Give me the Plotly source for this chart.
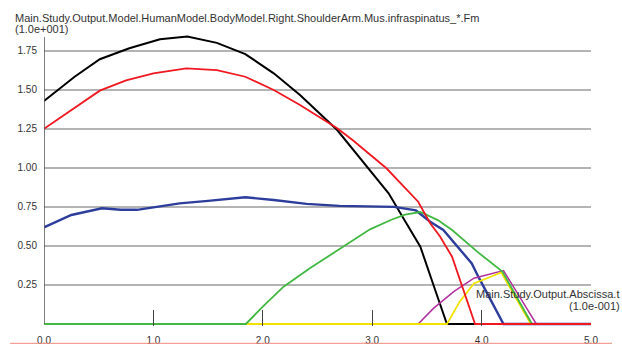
import plotly.graph_objects as go

# Muscle force curves: Mus.infraspinatus_* Fm (scaled 1.0e+001) vs time t (scaled 1.0e-001)
black_t = [0.0, 0.28, 0.51, 0.78, 1.06, 1.31, 1.58, 1.84, 2.10, 2.34, 2.68, 2.95, 3.15, 3.30, 3.44, 3.56, 3.683, 5.0]
black_f = [1.428, 1.583, 1.695, 1.765, 1.823, 1.840, 1.800, 1.728, 1.605, 1.466, 1.242, 1.007, 0.837, 0.660, 0.495, 0.250, 0.0, 0.0]

red_t = [0.0, 0.28, 0.51, 0.75, 1.0, 1.30, 1.58, 1.84, 2.10, 2.34, 2.68, 2.82, 3.13, 3.42, 3.53, 3.62, 3.73, 3.94, 5.0]
red_f = [1.25, 1.381, 1.494, 1.560, 1.605, 1.637, 1.626, 1.583, 1.498, 1.402, 1.253, 1.178, 0.997, 0.783, 0.645, 0.560, 0.431, 0.0, 0.0]

blue_t = [0.0, 0.25, 0.53, 0.70, 0.85, 1.0, 1.24, 1.50, 1.84, 2.10, 2.40, 2.70, 3.0, 3.20, 3.40, 3.53, 3.65, 3.91, 3.97, 4.20, 5.0]
blue_f = [0.619, 0.698, 0.741, 0.731, 0.731, 0.747, 0.772, 0.788, 0.811, 0.794, 0.769, 0.756, 0.752, 0.750, 0.727, 0.655, 0.602, 0.388, 0.303, 0.0, 0.0]

green_t = [0.0, 1.845, 2.0, 2.19, 2.43, 2.71, 2.98, 3.17, 3.30, 3.44, 3.60, 3.73, 3.96, 4.19, 4.46, 5.0]
green_f = [0.0, 0.0, 0.111, 0.239, 0.357, 0.485, 0.606, 0.666, 0.700, 0.717, 0.665, 0.602, 0.463, 0.335, 0.0, 0.0]

magenta_t = [0.0, 3.42, 3.56, 3.745, 3.93, 4.05, 4.20, 4.50, 5.0]
magenta_f = [0.0, 0.0, 0.100, 0.207, 0.293, 0.314, 0.342, 0.0, 0.0]

yellow_t = [0.0, 3.683, 3.80, 3.93, 4.05, 4.18, 4.45, 5.0]
yellow_f = [0.0, 0.0, 0.143, 0.260, 0.293, 0.330, 0.0, 0.0]

x_ticks = [0.0, 1.0, 2.0, 3.0, 4.0, 5.0]
x_labels = ["0.0", "1.0", "2.0", "3.0", "4.0", "5.0"]
y_ticks = [0.25, 0.50, 0.75, 1.00, 1.25, 1.50, 1.75]
y_labels = ["0.25", "0.50", "0.75", "1.00", "1.25", "1.50", "1.75"]

title_l1 = "Main.Study.Output.Model.HumanModel.BodyModel.Right.ShoulderArm.Mus.infraspinatus_*.Fm"
title_l2 = "(1.0e+001)"
xlab_l1 = "Main.Study.Output.Abscissa.t"
xlab_l2 = "(1.0e-001)"

W, H = 622, 345
ML, MR, MT, MB = 44, 31, 34, 19
PW, PH = W - ML - MR, H - MT - MB
Y_SCALE = 156.2          # pixels per unit force
Y_PAD = 2 / Y_SCALE      # keeps the zero-level lines fully inside the plot area


def px(x):
    return (x - ML) / PW


def py(y):
    return (H - MB - y) / PH


FONT = "Liberation Sans, Arial, sans-serif"

fig = go.Figure()

series = [
    (black_t, black_f, "#000000", 2.0),
    (blue_t, blue_f, "#2d3d9c", 2.4),
    (magenta_t, magenta_f, "#b2309e", 1.5),
    (yellow_t, yellow_f, "#f2e200", 1.8),
    (green_t, green_f, "#42b842", 1.8),
    (red_t, red_f, "#f01820", 1.8),
]
for t, f, c, w in series:
    fig.add_trace(go.Scatter(x=t, y=f, mode="lines",
                             line=dict(color=c, width=w), hoverinfo="skip"))

fig.update_layout(
    width=W, height=H,
    margin=dict(l=ML, r=MR, t=MT, b=MB, pad=0),
    paper_bgcolor="white", plot_bgcolor="white",
    showlegend=False,
    font=dict(family=FONT, color="#333333", size=10),
    xaxis=dict(range=[0, 5], tickvals=x_ticks, ticktext=x_labels,
               ticks="inside", ticklen=16, tickwidth=1.2, tickcolor="#444444",
               showgrid=False, zeroline=False, showline=False, automargin=False,
               ticklabelstandoff=7, tickfont=dict(size=10, color="#333333")),
    yaxis=dict(range=[-Y_PAD, PH / Y_SCALE - Y_PAD], tickvals=y_ticks, ticktext=y_labels,
               ticks="", showgrid=True, gridcolor="#b4b4b4", gridwidth=1.5,
               zeroline=False, showline=False, automargin=False, ticklabelstandoff=6,
               tickfont=dict(size=10, color="#333333")),
)

# vertical axis line
fig.add_shape(type="line", xref="x", yref="y", x0=0, x1=0, y0=0, y1=1.837,
              line=dict(color="#555555", width=1.5), layer="above")

# thin border line along the bottom of the frame
fig.add_shape(type="line", xref="paper", yref="paper",
              x0=px(10), x1=px(612), y0=py(343.3), y1=py(343.3),
              line=dict(color="#f08a7c", width=1))

fig.add_annotation(text=title_l1, xref="paper", yref="paper", x=px(13), y=py(17.5),
                   xanchor="left", yanchor="middle", showarrow=False,
                   font=dict(size=11, color="#333333", family=FONT))
fig.add_annotation(text=title_l2, xref="paper", yref="paper", x=px(13), y=py(28.5),
                   xanchor="left", yanchor="middle", showarrow=False,
                   font=dict(size=11, color="#333333", family=FONT))
fig.add_annotation(text=xlab_l1, xref="paper", yref="paper", x=px(621), y=py(294),
                   xanchor="right", yanchor="middle", showarrow=False,
                   font=dict(size=11, color="#333333", family=FONT))
fig.add_annotation(text=xlab_l2, xref="paper", yref="paper", x=px(621.5), y=py(306),
                   xanchor="right", yanchor="middle", showarrow=False,
                   font=dict(size=11, color="#333333", family=FONT))

fig.write_html("out.html")
